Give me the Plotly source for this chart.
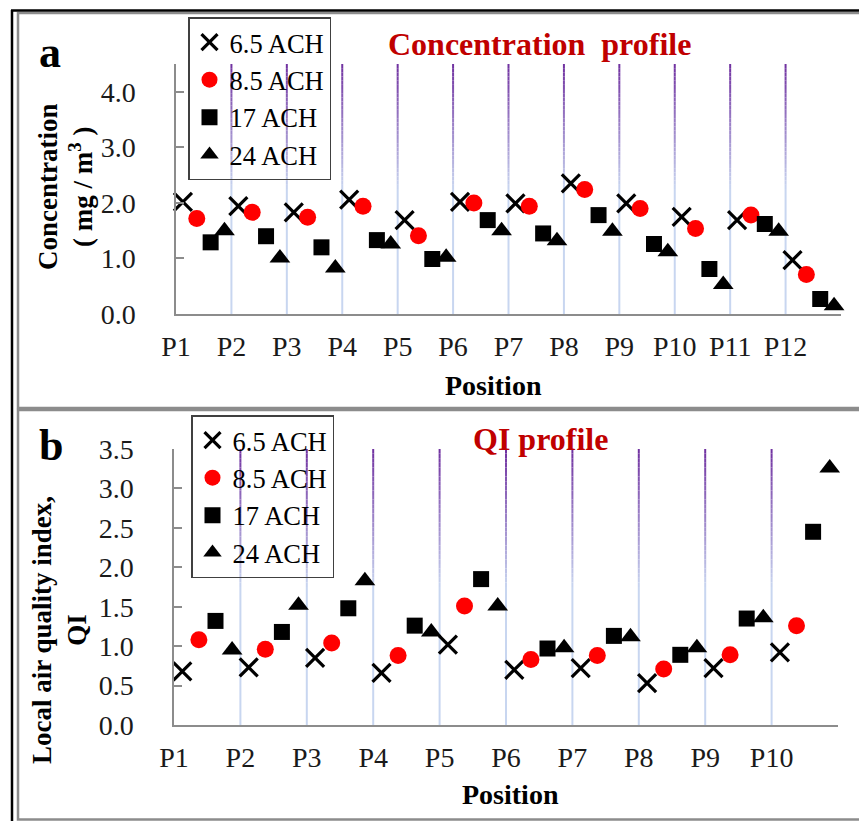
import plotly.graph_objects as go

W, H = 859, 821
FONT = "Liberation Serif"

# ---------------- data ----------------
conc_positions = ["P1", "P2", "P3", "P4", "P5", "P6", "P7", "P8", "P9", "P10", "P11", "P12"]
conc_65 = [2.02, 1.94, 1.83, 2.06, 1.69, 2.02, 1.99, 2.35, 1.99, 1.75, 1.69, 0.97]
conc_85 = [1.72, 1.83, 1.74, 1.94, 1.41, 2.00, 1.94, 2.24, 1.90, 1.54, 1.78, 0.71]
conc_17 = [1.29, 1.40, 1.20, 1.33, 0.99, 1.69, 1.45, 1.78, 1.26, 0.81, 1.62, 0.27]
conc_24 = [1.50, 1.01, 0.83, 1.26, 1.02, 1.50, 1.32, 1.49, 1.12, 0.53, 1.49, 0.15]

qi_positions = ["P1", "P2", "P3", "P4", "P5", "P6", "P7", "P8", "P9", "P10"]
qi_65 = [0.68, 0.73, 0.85, 0.66, 1.02, 0.70, 0.72, 0.53, 0.72, 0.92]
qi_85 = [1.08, 0.96, 1.04, 0.88, 1.51, 0.83, 0.88, 0.71, 0.89, 1.26]
qi_17 = [1.32, 1.18, 1.48, 1.26, 1.85, 0.97, 1.13, 0.89, 1.35, 2.45]
qi_24 = [0.95, 1.52, 1.83, 1.18, 1.51, 0.98, 1.12, 0.98, 1.36, 3.26]

series_names = ["6.5 ACH", "8.5 ACH", "17 ACH", "24 ACH"]

# ---------------- styles ----------------
styles = [
    dict(symbol="x-thin", size=18, color="black", line=dict(width=3.2, color="black")),
    dict(symbol="circle", size=17, color="#ff0000", line=dict(width=0)),
    dict(symbol="square", size=16, color="black", line=dict(width=0)),
    dict(symbol="triangle-up", size=18, color="black", line=dict(width=0)),
]


def px(x):
    return x / W


def py(y):
    return 1 - y / H


fig = go.Figure()

conc_series = [conc_65, conc_85, conc_17, conc_24]
qi_series = [qi_65, qi_85, qi_17, qi_24]

for s, (name, vals) in enumerate(zip(series_names, conc_series)):
    xs = [i + 0.125 + 0.25 * s for i in range(len(vals))]
    fig.add_trace(go.Scatter(x=xs, y=vals, mode="markers", name=name,
                             marker=styles[s], xaxis="x", yaxis="y",
                             legend="legend", showlegend=True, cliponaxis=False))
for s, (name, vals) in enumerate(zip(series_names, qi_series)):
    xs = [i + 0.125 + 0.25 * s for i in range(len(vals))]
    fig.add_trace(go.Scatter(x=xs, y=vals, mode="markers", name=name,
                             marker=styles[s], xaxis="x2", yaxis="y2",
                             legend="legend2", showlegend=True, cliponaxis=False))

# ---------------- gradient vertical separators ----------------
def lerp(c1, c2, t):
    return "rgb(%d,%d,%d)" % tuple(round(a + (b - a) * t) for a, b in zip(c1, c2))


top_col = (112, 48, 160)
bot_col = (200, 214, 240)
shapes = []


def add_grad_lines(n, ymax, xref, yref):
    nseg = 30
    fade_end = 0.5
    for k in range(1, n):
        for j in range(nseg):
            f0 = j / nseg * fade_end
            f1 = (j + 1) / nseg * fade_end
            y1 = ymax * (1 - f0)
            y0 = ymax * (1 - f1)
            shapes.append(dict(type="line", xref=xref, yref=yref, x0=k, x1=k,
                               y0=y0, y1=y1, layer="below",
                               line=dict(color=lerp(top_col, bot_col, (j + 0.5) / nseg), width=2)))
        shapes.append(dict(type="line", xref=xref, yref=yref, x0=k, x1=k,
                           y0=0, y1=ymax * (1 - fade_end), layer="below",
                           line=dict(color=lerp(top_col, bot_col, 1.0), width=2)))


add_grad_lines(len(conc_positions), 4.5, "x", "y")
add_grad_lines(len(qi_positions), 3.5, "x2", "y2")

# ---------------- frames ----------------
shapes += [
    dict(type="rect", xref="paper", yref="paper", x0=px(18), x1=px(880), y0=py(408), y1=py(13),
         line=dict(color="#8c8c8c", width=2.5), layer="below"),
    dict(type="rect", xref="paper", yref="paper", x0=px(18), x1=px(880), y0=py(819.5), y1=py(410),
         line=dict(color="#8c8c8c", width=2.5), layer="below"),
    dict(type="line", xref="paper", yref="paper", x0=px(12), x1=px(12), y0=py(830), y1=py(10),
         line=dict(color="black", width=2.5)),
    dict(type="line", xref="paper", yref="paper", x0=px(11), x1=px(880), y0=py(10.5), y1=py(10.5),
         line=dict(color="black", width=2.5)),
]

# ---------------- annotations ----------------
def ann(text, x, y, size, bold=False, color="black", angle=0):
    t = "<b>%s</b>" % text if bold else text
    return dict(text=t, xref="paper", yref="paper", x=px(x), y=py(y), xanchor="center",
                yanchor="middle", showarrow=False, textangle=angle,
                font=dict(family=FONT, size=size, color=color))


annotations = [
    ann("a", 50, 52, 44, bold=True),
    ann("b", 51, 446, 44, bold=True),
    ann("Concentration  profile", 539, 44, 32, bold=True, color="#c00000"),
    ann("QI profile", 540, 439, 32, bold=True, color="#c00000"),
    ann("Concentration<br>( mg / m<sup>3</sup> )", 65, 187, 27, bold=True, angle=-90),
    ann("Local air quality index,<br>QI", 59, 630, 27, bold=True, angle=-90),
    ann("Position", 493, 385, 28, bold=True),
    ann("Position", 510, 794, 28, bold=True),
]

axis_gray = "#8c8c8c"
tickfont = dict(family=FONT, size=28, color="#1a1a1a")

common_x = dict(showgrid=False, zeroline=False, showline=True, linecolor=axis_gray, linewidth=1.5,
                ticks="", tickfont=tickfont, ticklabelstandoff=7, automargin=False)
common_y = dict(showgrid=False, zeroline=False, showline=True, linecolor=axis_gray, linewidth=1.5,
                ticks="inside", ticklen=8, tickcolor=axis_gray, tickwidth=1.5, tickfont=tickfont,
                tickformat=".1f", ticklabelstandoff=33, automargin=False)

legend_common = dict(font=dict(family=FONT, size=26.5, color="black"), bgcolor="rgba(0,0,0,0)",
                     bordercolor="#404040", borderwidth=1.5, xanchor="left", yanchor="top",
                     itemsizing="trace", tracegroupgap=0)

fig.update_layout(
    width=W, height=H,
    margin=dict(l=0, r=0, t=0, b=0, pad=0, autoexpand=False),
    paper_bgcolor="white", plot_bgcolor="rgba(0,0,0,0)",
    xaxis=dict(domain=[px(176), px(841)], range=[0, 12],
               tickvals=list(range(len(conc_positions))), ticktext=conc_positions,
               anchor="y", **common_x),
    yaxis=dict(domain=[py(314), py(64)], range=[0, 4.5], tickvals=[0, 1, 2, 3, 4],
               anchor="x", **common_y),
    xaxis2=dict(domain=[px(174), px(838)], range=[0, 10],
                tickvals=list(range(len(qi_positions))), ticktext=qi_positions,
                anchor="y2", **common_x),
    yaxis2=dict(domain=[py(725), py(449)], range=[0, 3.5],
                tickvals=[0, 0.5, 1, 1.5, 2, 2.5, 3, 3.5], anchor="x2", **common_y),
    legend=dict(x=px(188), y=py(17), **legend_common),
    legend2=dict(x=px(191), y=py(415), **legend_common),
    shapes=shapes,
    annotations=annotations,
    showlegend=True,
)

fig.write_html("out.html", config={"displayModeBar": False},
               post_script="document.body.style.margin='0';document.body.style.overflow='hidden';")
